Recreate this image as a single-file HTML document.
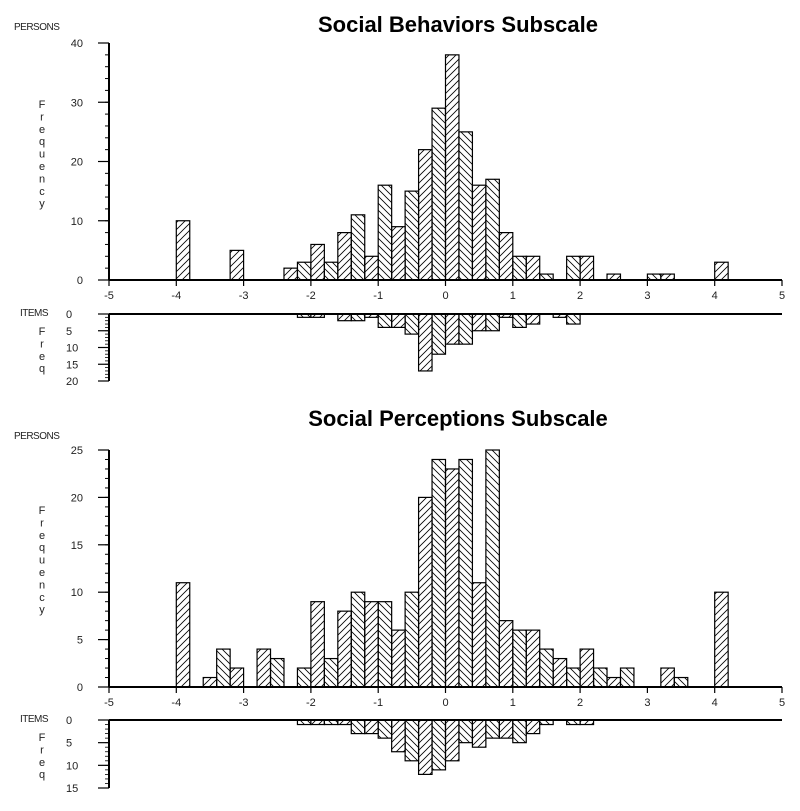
<!DOCTYPE html>
<html><head><meta charset="utf-8"><style>
body{margin:0;background:#fff;width:800px;height:806px;overflow:hidden}
svg text{font-family:"Liberation Sans",Arial,sans-serif}
</style></head><body>
<svg id="c" width="800" height="806" viewBox="0 0 800 806" xmlns="http://www.w3.org/2000/svg">
<defs>
<pattern id="hf" patternUnits="userSpaceOnUse" width="7" height="7"><path d="M-1,8 L8,-1 M-1,1 L1,-1 M6,8 L8,6" stroke="#000" stroke-width="0.8"/></pattern>
<pattern id="hb" patternUnits="userSpaceOnUse" width="7" height="7"><path d="M-1,-1 L8,8 M6,-1 L8,1 M-1,6 L1,8" stroke="#000" stroke-width="0.8"/></pattern>
</defs>
</svg>
<script>
// Bin left edges (width 0.2) and frequencies
const behPersonBins = [-4,-3.2,-2.4,-2.2,-2.0,-1.8,-1.6,-1.4,-1.2,-1.0,-0.8,-0.6,-0.4,-0.2,0,0.2,0.4,0.6,0.8,1.0,1.2,1.4,1.8,2.0,2.4,3.0,3.2,4.0];
const behPersonCounts = [10,5,2,3,6,3,8,11,4,16,9,15,22,29,38,25,16,17,8,4,4,1,4,4,1,1,1,3];
const behItemBins = [-2.2,-2.0,-1.6,-1.4,-1.2,-1.0,-0.8,-0.6,-0.4,-0.2,0,0.2,0.4,0.6,0.8,1.0,1.2,1.6,1.8];
const behItemCounts = [1,1,2,2,1,4,4,6,17,12,9,9,5,5,1,4,3,1,3];
const perPersonBins = [-4,-3.6,-3.4,-3.2,-2.8,-2.6,-2.2,-2.0,-1.8,-1.6,-1.4,-1.2,-1.0,-0.8,-0.6,-0.4,-0.2,0,0.2,0.4,0.6,0.8,1.0,1.2,1.4,1.6,1.8,2.0,2.2,2.4,2.6,3.2,3.4,4.0];
const perPersonCounts = [11,1,4,2,4,3,2,9,3,8,10,9,9,6,10,20,24,23,24,11,25,7,6,6,4,3,2,4,2,1,2,2,1,10];
const perItemBins = [-2.2,-2.0,-1.8,-1.6,-1.4,-1.2,-1.0,-0.8,-0.6,-0.4,-0.2,0,0.2,0.4,0.6,0.8,1.0,1.2,1.4,1.8,2.0];
const perItemCounts = [1,1,1,1,3,3,4,7,9,12,11,9,5,6,4,4,5,3,1,1,1];
const xTicks = [-5,-4,-3,-2,-1,0,1,2,3,4,5];
const behPersonTicks = [0,10,20,30,40];
const behItemTicks = [0,5,10,15,20];
const perPersonTicks = [0,5,10,15,20,25];
const perItemTicks = [0,5,10,15];

const svg = document.getElementById('c');
const NS = 'http://www.w3.org/2000/svg';
function mk(tag, attrs, parent){const e=document.createElementNS(NS,tag);for(const k in attrs)e.setAttribute(k,attrs[k]);(parent||svg).appendChild(e);return e;}
const X0=109, X1=782;
function xs(v){return X0+(v+5)/10*(X1-X0);}
const BW=0.2;

function chart(cfg){
  const g=mk('g',{});
  
  
  const t=mk('text',{x:458,y:cfg.titleY,'text-anchor':'middle','font-size':'22','font-weight':'bold'},g);
  t.textContent=cfg.title;
  
  
  const ys=v=>cfg.py0-(v/cfg.pmax)*(cfg.py0-cfg.pyTop);
  const yi=v=>cfg.iy0+(v/cfg.imax)*(cfg.iyBot-cfg.iy0);
  // person bars
  cfg.pBins.forEach((b,i)=>{
    const idx=Math.round((b+5)/BW);
    const x=xs(b), w=xs(b+BW)-x, y=ys(cfg.pCounts[i]);
    const r=mk('rect',{x:x,y:y,width:w,height:cfg.py0-y,fill:idx%2?'url(#hf)':'url(#hb)',stroke:'#000','stroke-width':1.2},g);
    
    
  });
  // item bars
  cfg.iBins.forEach((b,i)=>{
    const idx=Math.round((b+5)/BW);
    const x=xs(b), w=xs(b+BW)-x, y=yi(cfg.iCounts[i]);
    const r=mk('rect',{x:x,y:cfg.iy0,width:w,height:y-cfg.iy0,fill:idx%2?'url(#hf)':'url(#hb)',stroke:'#000','stroke-width':1.2},g);
    
    
  });
  // axes
  mk('line',{x1:X0,y1:cfg.pyTop,x2:X0,y2:cfg.py0,stroke:'#000','stroke-width':2},g);
  mk('line',{x1:X0,y1:cfg.py0,x2:X1,y2:cfg.py0,stroke:'#000','stroke-width':2},g);
  mk('line',{x1:X0,y1:cfg.iy0,x2:X0,y2:cfg.iyBot,stroke:'#000','stroke-width':2},g);
  mk('line',{x1:X0,y1:cfg.iy0,x2:X1,y2:cfg.iy0,stroke:'#000','stroke-width':2},g);
  // person minor ticks
  for(let v=0; v<=cfg.pmax+1e-6; v+=cfg.pMinor){mk('line',{x1:X0-4,y1:ys(v),x2:X0,y2:ys(v),stroke:'#000','stroke-width':1},g);}
  cfg.pTicks.forEach(v=>{
    mk('line',{x1:X0-11,y1:ys(v),x2:X0,y2:ys(v),stroke:'#000','stroke-width':1.2},g);
    const tx=mk('text',{x:83,y:ys(v)+4,'text-anchor':'end','font-size':'11','fill':'#222'},g);
    tx.textContent=v;
    
    
  });
  for(let v=0; v<=cfg.imax+1e-6; v+=1){mk('line',{x1:X0-4,y1:yi(v),x2:X0,y2:yi(v),stroke:'#000','stroke-width':0.8},g);}
  cfg.iTicks.forEach(v=>{
    mk('line',{x1:X0-11,y1:yi(v),x2:X0,y2:yi(v),stroke:'#000','stroke-width':1.2},g);
    const tx=mk('text',{x:66,y:yi(v)+4,'text-anchor':'start','font-size':'11','fill':'#222'},g);
    tx.textContent=v;
    
    
  });
  xTicks.forEach(v=>{
    mk('line',{x1:xs(v),y1:cfg.py0,x2:xs(v),y2:cfg.py0+6,stroke:'#000','stroke-width':1.2},g);
    const tx=mk('text',{x:xs(v),y:cfg.py0+19,'text-anchor':'middle','font-size':'11','fill':'#222'},g);
    tx.textContent=v;
    
    
  });
  const pl=mk('text',{x:cfg.plx,y:cfg.ply,'font-size':'10','fill':'#222','letter-spacing':'-0.5'},g);
  pl.textContent='PERSONS';
  
  
  const il=mk('text',{x:20,y:cfg.iy0+2,'font-size':'10','fill':'#222','letter-spacing':'-0.5'},g);
  il.textContent='ITEMS';
  
  
  const fy=mk('text',{x:42,'font-size':'11','text-anchor':'middle','fill':'#222'},g);
  
  
  'Frequency'.split('').forEach((ch,i)=>{const s=mk('tspan',{x:42,y:cfg.fy+i*12.4},fy);s.textContent=ch;});
  const fq=mk('text',{x:42,'font-size':'11','text-anchor':'middle','fill':'#222'},g);
  
  
  'Freq'.split('').forEach((ch,i)=>{const s=mk('tspan',{x:42,y:cfg.iy0+21+i*12.4},fq);s.textContent=ch;});
}

chart({name:'social-behaviors-chart',title:'Social Behaviors Subscale',titleY:32,
  pBins:behPersonBins,pCounts:behPersonCounts,iBins:behItemBins,iCounts:behItemCounts,
  pTicks:behPersonTicks,iTicks:behItemTicks,pmax:40,pMinor:2,py0:280,pyTop:43,
  imax:20,iy0:314,iyBot:381,plx:14,ply:30,fy:108});
chart({name:'social-perceptions-chart',title:'Social Perceptions Subscale',titleY:426,
  pBins:perPersonBins,pCounts:perPersonCounts,iBins:perItemBins,iCounts:perItemCounts,
  pTicks:perPersonTicks,iTicks:perItemTicks,pmax:25,pMinor:1,py0:687,pyTop:450,
  imax:15,iy0:720,iyBot:788,plx:14,ply:439,fy:514});
</script>
</body></html>
